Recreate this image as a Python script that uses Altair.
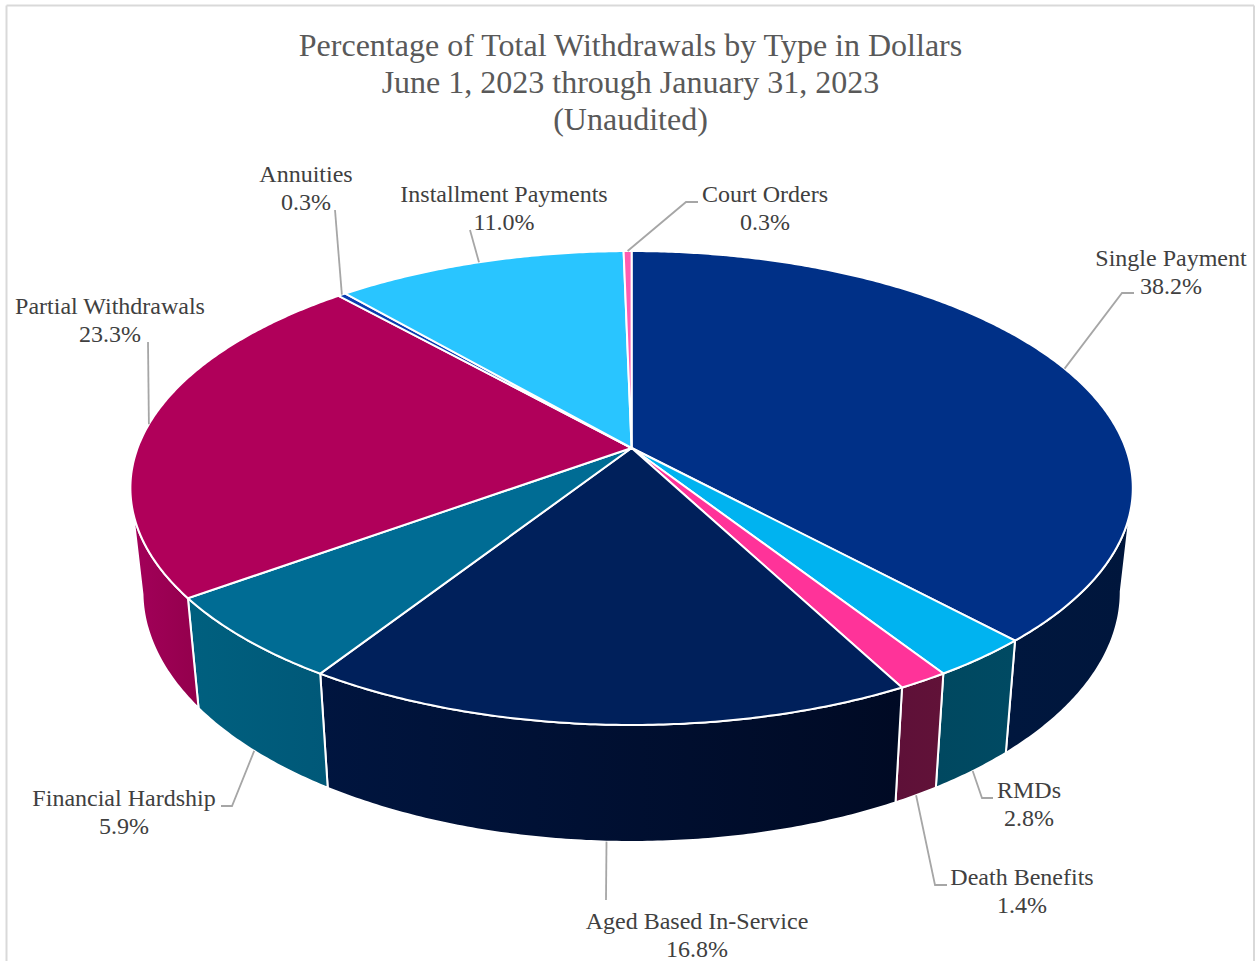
import math
import altair as alt

# Slices, clockwise from twelve o'clock
names = ["Single Payment", "RMDs", "Death Benefits", "Aged Based In-Service",
         "Financial Hardship", "Partial Withdrawals", "Annuities",
         "Installment Payments", "Court Orders"]
shares = [38.2, 2.8, 1.4, 16.8, 5.9, 23.3, 0.3, 11.0, 0.3]
top_colors = ["#003087", "#00B3F0", "#FF3399", "#00205B", "#006C94",
              "#B0005A", "#0A3CB0", "#29C5FF", "#FF5CB0"]
wall_stops = {
    "Single Payment": ("#00163C", "#00173E"),
    "RMDs": ("#004A63", "#004860"),
    "Death Benefits": ("#611238", "#5E1038"),
    "Aged Based In-Service": ("#00153F", "#000A24"),
    "Financial Hardship": ("#00607F", "#005878"),
    "Partial Withdrawals": ("#A3005A", "#93004C"),
}

title_lines = ["Percentage of Total Withdrawals by Type in Dollars",
               "June 1, 2023 through January 31, 2023", "(Unaudited)"]

# Perspective model of the disc and of its lower rim
CX, CY = 631.6, 448.0
RX, RY, PERSP = 494.0, 230.2, 0.1688
SKEW = 0.4
DEPTH_X, DEPTH_Y0, DEPTH_YK = 0.976, 549.5, 1.056
VIS_START, VIS_END = 100.0, 260.0


def top_pt(deg):
    t = math.radians(deg - SKEW * math.sin(math.radians(deg / 2)))
    u, v = math.sin(t), -math.cos(t)
    den = 1 - PERSP * v
    return [CX + RX * u / den, CY + RY * v / den]


def bottom_pt(deg):
    x, y = top_pt(deg)
    return [CX + DEPTH_X * (x - CX), DEPTH_Y0 + DEPTH_YK * (y - CY)]


def arc(a, b, fn):
    n = max(2, int(abs(b - a) / 0.5))
    return [fn(a + (b - a) * i / n) for i in range(n + 1)]


def feature(name, ring):
    return {"type": "Feature", "properties": {"name": name},
            "geometry": {"type": "Polygon", "coordinates": [ring + [ring[0]]]}}


angles = []
running = 0.0
for s in shares:
    angles.append((running * 3.6, (running + s) * 3.6))
    running += s

top_features = [feature(n, [[CX, CY]] + arc(a, b, top_pt))
                for n, (a, b) in zip(names, angles)]

screen = dict(type="identity", scale=1, translate=[0, 0])

# Side wall of each slice facing the viewer, with its own horizontal shading
wall_layers = []
for n, (a, b) in zip(names, angles):
    if n not in wall_stops:
        continue
    lo, hi = max(a, VIS_START), min(b, VIS_END)
    if lo >= hi:
        continue
    ring = arc(lo, hi, top_pt) + arc(hi, lo, bottom_pt)
    c0, c1 = wall_stops[n]
    if lo + hi < 360:
        c0, c1 = c1, c0
    wall_layers.append(
        alt.Chart(alt.Data(values=[feature(n, ring)])).mark_geoshape(
            fill=alt.Gradient(gradient="linear", x1=0, x2=1, y1=0, y2=0,
                              stops=[alt.GradientStop(color=c0, offset=0),
                                     alt.GradientStop(color=c1, offset=1)]),
            stroke="white", strokeWidth=2,
        ).project(**screen)
    )

tops = alt.Chart(alt.Data(values=top_features)).mark_geoshape(
    stroke="white", strokeWidth=2
).encode(
    color=alt.Color("properties.name:N", legend=None,
                    scale=alt.Scale(domain=names, range=top_colors))
).project(**screen)

# Label anchors: centre and first baseline, leader elbow points
label_pos = {
    "Single Payment": (1171, 266),
    "RMDs": (1029, 798),
    "Death Benefits": (1022, 885),
    "Aged Based In-Service": (697, 929),
    "Financial Hardship": (124, 806),
    "Partial Withdrawals": (110, 314),
    "Annuities": (306, 182),
    "Installment Payments": (504, 202),
    "Court Orders": (765, 202),
}
leader_elbows = {
    "Single Payment": [(1134, 293), (1122, 293)],
    "RMDs": [(993, 798), (982, 798)],
    "Death Benefits": [(947, 885), (935, 885)],
    "Aged Based In-Service": [(606, 900)],
    "Financial Hardship": [(221, 806), (232, 806)],
    "Partial Withdrawals": [(148, 342)],
    "Annuities": [(335, 210)],
    "Installment Payments": [(470, 230)],
    "Court Orders": [(698, 202), (686, 202)],
}

leader_rows = []
for n, (a, b) in zip(names, angles):
    mid = (a + b) / 2
    end = bottom_pt(mid) if VIS_START < mid < VIS_END else top_pt(mid)
    pts = leader_elbows[n] + [tuple(end)]
    for i, (x, y) in enumerate(pts):
        leader_rows.append({"name": n, "i": i, "x": x, "y": y})

label_rows = [{"text": f"{n}\n{s:.1f}%", "x": label_pos[n][0], "y": label_pos[n][1]}
              for n, s in zip(names, shares)]

x_px = alt.X("x:Q", axis=None, scale=alt.Scale(domain=[0, 1255], range=[0, 1255]))
y_px = alt.Y("y:Q", axis=None, scale=alt.Scale(domain=[0, 961], range=[0, 961]))

leaders = alt.Chart(alt.Data(values=leader_rows)).mark_line(
    color="#A6A6A6", strokeWidth=1.8
).encode(x=x_px, y=y_px, detail="name:N", order="i:Q")

labels = alt.Chart(alt.Data(values=label_rows)).mark_text(
    font="Liberation Serif", fontSize=24, color="#404040", align="center",
    baseline="alphabetic", lineBreak="\n", lineHeight=28
).encode(x=x_px, y=y_px, text="text:N")

frame = [
    alt.Chart().mark_rule(color="#D9D9D9", strokeWidth=2).encode(
        x=alt.value(6.5), y=alt.value(5.5), y2=alt.value(961)),
    alt.Chart().mark_rule(color="#D9D9D9", strokeWidth=2).encode(
        x=alt.value(1254), y=alt.value(5.5), y2=alt.value(961)),
    alt.Chart().mark_rule(color="#D9D9D9", strokeWidth=2).encode(
        x=alt.value(6.5), x2=alt.value(1254), y=alt.value(5.5)),
]

chart = alt.layer(*frame, *wall_layers, tops, leaders, labels).properties(
    width=1255, height=961, padding=0, autosize=alt.AutoSizeParams(type="none"),
    background="white",
    title=alt.TitleParams(
        text=title_lines, font="Liberation Serif", fontSize=32, fontWeight="normal",
        color="#595959", lineHeight=37, anchor="middle", dx=3, dy=136.5, offset=0,
    ),
).configure_view(stroke=None)

chart.save("out.html", embed_options={"renderer": "svg", "actions": False})
